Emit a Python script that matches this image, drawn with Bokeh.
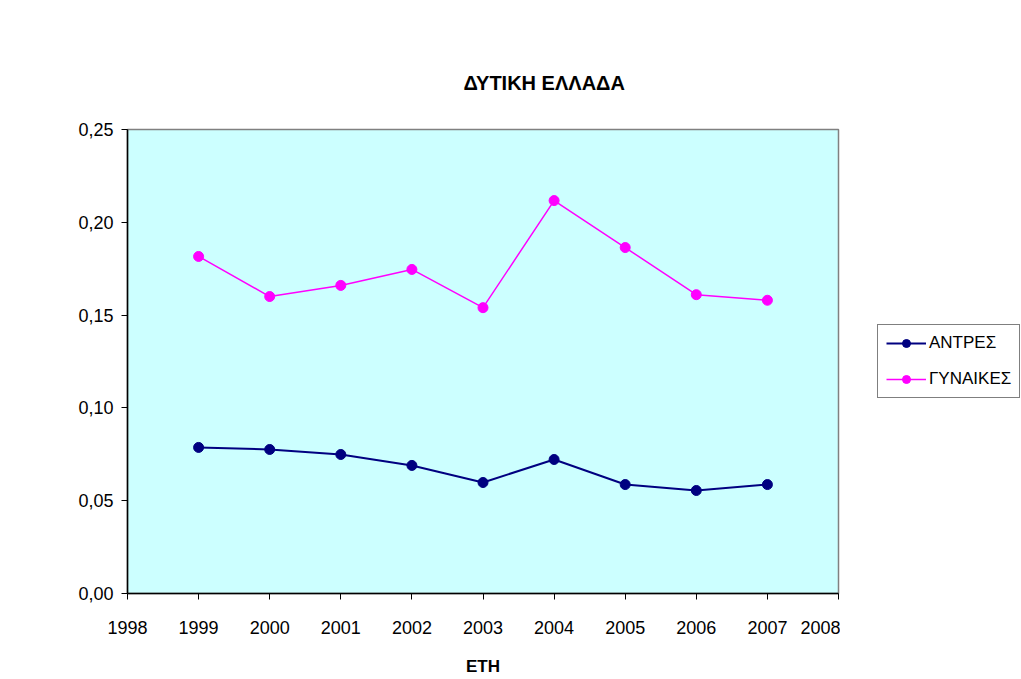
from bokeh.plotting import figure
from bokeh.layouts import row
from bokeh.models import Legend, LegendItem, FixedTicker, Range1d
from bokeh.embed import file_html
from bokeh.resources import INLINE

years = [1999, 2000, 2001, 2002, 2003, 2004, 2005, 2006, 2007]
antres = [0.0787, 0.0776, 0.0749, 0.0690, 0.0598, 0.0722, 0.0587, 0.0555, 0.0587]
gynaikes = [0.1816, 0.1600, 0.1660, 0.1746, 0.1540, 0.2117, 0.1864, 0.1610, 0.1580]
series_names = ["ΑΝΤΡΕΣ", "ΓΥΝΑΙΚΕΣ"]
y_ticks = [0.0, 0.05, 0.10, 0.15, 0.20, 0.25]
y_labels = ["0,00", "0,05", "0,10", "0,15", "0,20", "0,25"]
x_ticks = list(range(1998, 2009))

FONT = "Liberation Sans"
NAVY = "#000080"
MAGENTA = "#FF00FF"

p = figure(width=840, height=679, output_backend="svg", toolbar_location=None,
           x_range=Range1d(1998, 2008), y_range=Range1d(0, 0.25),
           min_border_left=127, min_border_right=2, min_border_top=129,
           min_border_bottom=86, title="ΔΥΤΙΚΗ ΕΛΛΑΔΑ")

p.background_fill_color = "#CCFFFF"
p.border_fill_color = "white"
p.outline_line_color = "#808080"
p.outline_line_width = 1.5
p.grid.visible = False

p.title.text_font = FONT
p.title.text_font_size = "20px"
p.title.text_font_style = "bold"
p.title.text_color = "black"
p.title.align = "left"
p.title.offset = 336
p.title.standoff = 72

for ax in (p.xaxis[0], p.yaxis[0]):
    ax.axis_line_color = "black"
    ax.axis_line_width = 1.5
    ax.major_tick_line_color = "black"
    ax.major_tick_out = 6
    ax.major_tick_in = 0
    ax.minor_tick_line_color = None
    ax.major_label_text_font = FONT
    ax.major_label_text_font_size = "18px"
    ax.major_label_text_color = "black"

p.xaxis.ticker = FixedTicker(ticks=x_ticks)
p.xaxis.major_label_standoff = 21
p.xaxis.axis_label = "ΕΤΗ"
p.xaxis.axis_label_text_font = FONT
p.xaxis.axis_label_text_font_size = "17px"
p.xaxis.axis_label_text_font_style = "bold"
p.xaxis.axis_label_text_color = "black"
p.xaxis.axis_label_standoff = 20

p.yaxis.ticker = FixedTicker(ticks=y_ticks)
p.yaxis.major_label_overrides = {t: l for t, l in zip(y_ticks, y_labels)}
p.yaxis.major_label_standoff = 8

p.line(years, antres, line_color=NAVY, line_width=2)
p.scatter(years, antres, size=10, fill_color=NAVY, line_color=NAVY)
p.line(years, gynaikes, line_color=MAGENTA, line_width=1.5)
p.scatter(years, gynaikes, size=10, fill_color=MAGENTA, line_color=MAGENTA)

# legend panel to the right of the plot area (its frame is aligned with p's)
q = figure(width=181, height=679, output_backend="svg", toolbar_location=None,
           x_range=Range1d(0, 1), y_range=Range1d(0, 1), min_border=0)
q.axis.visible = False
q.grid.visible = False
q.outline_line_color = None
q.background_fill_color = "white"
q.border_fill_color = "white"
# off-range swatch renderers, used only for the legend glyphs
off = [5, 6]
k1 = q.line(off, off, line_color=NAVY, line_width=2)
k2 = q.scatter(off, off, size=10, fill_color=NAVY, line_color=NAVY)
k3 = q.line(off, off, line_color=MAGENTA, line_width=1.5)
k4 = q.scatter(off, off, size=10, fill_color=MAGENTA, line_color=MAGENTA)

legend = Legend(items=[LegendItem(label=series_names[0], renderers=[k1, k2]),
                       LegendItem(label=series_names[1], renderers=[k3, k4])],
                location=(37, 195))
legend.label_text_font = FONT
legend.label_text_font_size = "17px"
legend.label_text_color = "black"
legend.border_line_color = "black"
legend.border_line_width = 1
legend.background_fill_color = "white"
legend.glyph_width = 40
legend.glyph_height = 20
legend.label_standoff = 3
legend.spacing = 16
legend.padding = 8
legend.margin = 0
q.add_layout(legend)

open("out.html", "w").write(file_html(row(p, q), INLINE))
